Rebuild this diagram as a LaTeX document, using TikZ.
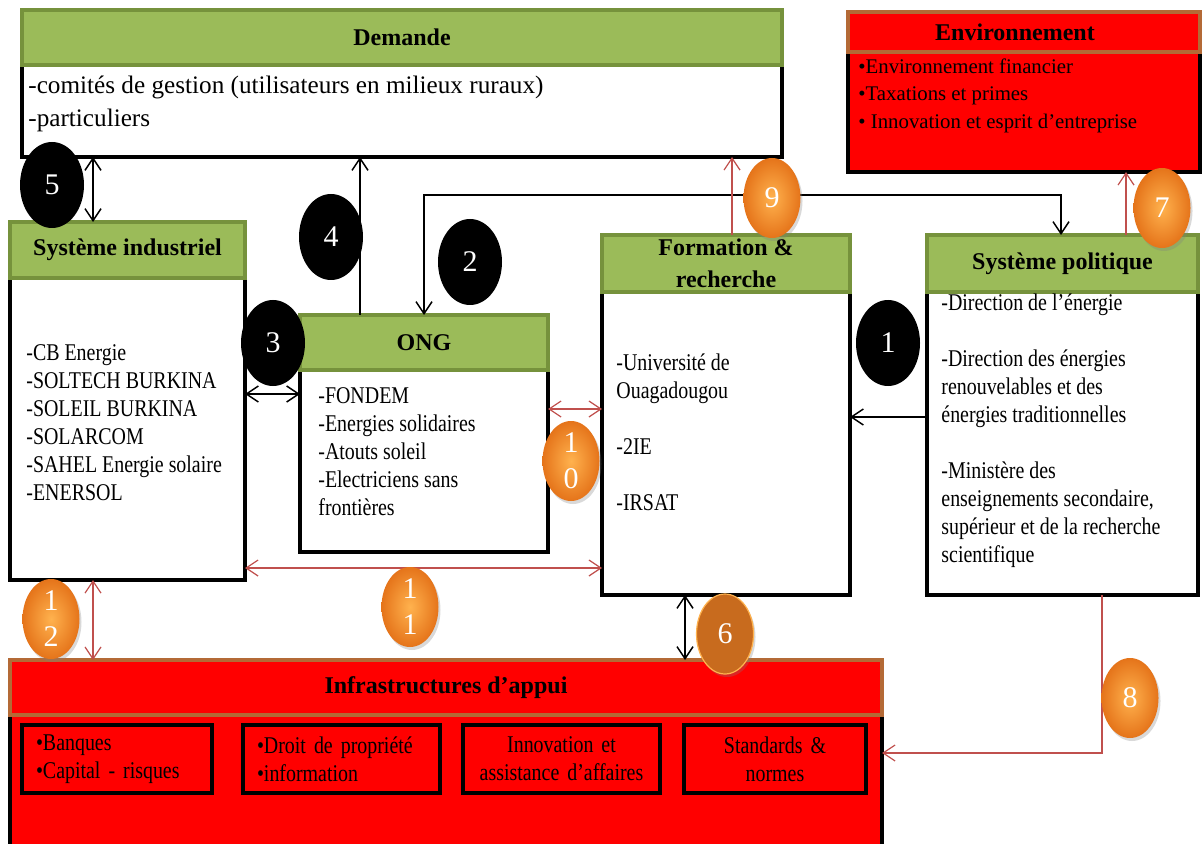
\documentclass[tikz,border=0pt]{standalone}
\usepackage{fontspec}
\setmainfont{Liberation Serif}
\newfontfamily\cond[FakeStretch=0.83]{Liberation Serif}
\usetikzlibrary{arrows.meta,shapes.geometric,positioning,shadows}

\definecolor{hdrgreen}{HTML}{9BBB59}
\definecolor{hdrline}{HTML}{76923C}
\definecolor{envline}{HTML}{B46A36}
\definecolor{linkred}{HTML}{C0504D}
\definecolor{ballout}{HTML}{E5741A}
\definecolor{ballin}{HTML}{FFB24E}
\definecolor{balldark}{HTML}{C86B1E}

\tikzset{
  hdr/.style={draw=hdrline, line width=2pt, fill=hdrgreen, outer sep=0pt, inner sep=0pt,
    align=center, font=\bfseries\fontsize{12}{16}\selectfont},
  bodybox/.style={draw, line width=2pt, fill=white, outer sep=0pt},
  redhdr/.style={hdr, draw=envline, fill=red},
  redbody/.style={bodybox, fill=red},
  inbox/.style={draw, line width=2pt, fill=red, minimum height=34pt, inner xsep=7pt,
    font=\cond\fontsize{12}{14}\selectfont},
  txt/.style={align=left, anchor=west, inner sep=0pt, font=\cond\fontsize{12}{14}\selectfont},
  blackno/.style={ellipse, fill=black, text=white, minimum width=32pt, minimum height=43pt,
    inner sep=0pt, font=\fontsize{15}{18}\selectfont},
  orno/.style={ellipse, inner color=ballin, outer color=ballout, text=white,
    minimum width=28.5pt, minimum height=40pt, inner sep=0pt, align=center,
    drop shadow={opacity=0.3, shadow xshift=1pt, shadow yshift=-1.5pt},
    font=\fontsize{15}{18}\selectfont},
  arr/.style={-{Straight Barb[length=6pt,width=8pt]}, line width=0.75pt},
  dbl/.style={{Straight Barb[length=6pt,width=8pt]}-{Straight Barb[length=6pt,width=8pt]}, line width=0.75pt},
  rarr/.style={arr, draw=linkred, line width=0.6pt},
  rdbl/.style={dbl, draw=linkred, line width=0.6pt}
}

\begin{document}
\begin{tikzpicture}[x=0.5pt, y=-0.5pt]
  \useasboundingbox (0,0) rectangle (1203,844);
  \clip (0,0) rectangle (1203,844);

  % boxes
  \node[bodybox, minimum width=380pt, minimum height=46pt] (demb) at (402,111) {};
  \node[hdr, minimum width=380pt, minimum height=27.5pt] (demh) [above=0pt of demb] {Demande};
  \node[txt, font=\fontsize{12.6}{16.5}\selectfont] (demt) at (28,104)
    {-comités de gestion (utilisateurs en milieux ruraux)\\-particuliers};

  \node[redbody, minimum width=176pt, minimum height=60pt] (envb) at (1024,112) {};
  \node[redhdr, minimum width=176pt, minimum height=20pt] (envh) [above=0pt of envb] {\hspace*{-9pt}Environnement};
  \node[txt, font=\fontsize{10.4}{13.75}\selectfont] (envt) at (858,95.5)
    {•Environnement financier\\•Taxations et primes\\• Innovation et esprit d’entreprise};

  \node[bodybox, minimum width=117.5pt, minimum height=151pt] (indb) at (127.5,429) {};
  \node[hdr, minimum width=117.5pt, minimum height=28pt] (indh) [above=0pt of indb] {Système industriel};
  \node[txt] (indt) at (26,422.5)
    {-CB Energie\\-SOLTECH BURKINA\\-SOLEIL BURKINA\\-SOLARCOM\\-SAHEL Energie solaire\\-ENERSOL};

  \node[bodybox, minimum width=124pt, minimum height=91pt] (ongb) at (424,461) {};
  \node[hdr, minimum width=124pt, minimum height=27.5pt] (ongh) [above=0pt of ongb] {ONG};
  \node[txt] (ongt) at (318,451.5)
    {-FONDEM\\-Energies solidaires\\-Atouts soleil\\-Electriciens sans\\frontières};

  \node[bodybox, minimum width=124pt, minimum height=151.5pt] (forb) at (726,443.5) {};
  \node[hdr, minimum width=124pt, minimum height=28.5pt] (forh) [above=0pt of forb] {Formation \&\\recherche};
  \node[txt] (fort) at (616,432)
    {-Université de\\Ouagadougou\\[14pt]-2IE\\[14pt]-IRSAT};

  \node[bodybox, minimum width=135.5pt, minimum height=151.5pt] (polb) at (1062.5,443.5) {};
  \node[hdr, minimum width=135.5pt, minimum height=28.5pt] (polh) [above=0pt of polb] {Système politique};
  \node[txt] (polt) at (941,431)
    {-Direction de l’énergie\\[14pt]-Direction des énergies\\renouvelables et des\\énergies traditionnelles\\[14pt]-Ministère des\\enseignements secondaire,\\supérieur et de la recherche\\scientifique};

  \node[redbody, minimum width=436pt, minimum height=70pt] (infb) at (446,785) {};
  \node[redhdr, minimum width=436pt, minimum height=27.5pt] (infh) [above=0pt of infb] {Infrastructures d’appui};
  \node[inbox, text width=81pt, align=left] (ib1) at (117,759) {•Banques\\•Capital - risques};
  \node[inbox, text width=84.5pt, align=left] (ib2) at (341.5,759) {•Droit de propriété\\•information};
  \node[inbox, text width=84.5pt, align=center] (ib3) at (561.5,759) {Innovation et\\assistance d’affaires};
  \node[inbox, text width=77pt, align=center] (ib4) at (775,759) {Standards \&\\normes};

  % links
  \coordinate (xind) at (93,0);
  \coordinate (x4) at (360,0);
  \coordinate (p2a) at (424,195);
  \coordinate (p2b) at (1061,195);
  \coordinate (y3) at (0,394);
  \coordinate (y1) at (0,417);
  \coordinate (y10) at (0,409);
  \coordinate (y11) at (0,568);
  \coordinate (x6) at (685,0);
  \coordinate (x7) at (1126,0);
  \coordinate (x9) at (732,0);
  \coordinate (p8) at (1102,753);

  \draw[arr] (polb.west |- y1) -- (forb.east |- y1);
  \draw[dbl] (ongh.north -| p2a) -- (p2a) -- (p2b) -- (polh.north -| p2b);
  \draw[dbl] (indb.east |- y3) -- (ongb.west |- y3);
  \draw[arr] (ongh.north -| x4) -- (demb.south -| x4);
  \draw[dbl] (demb.south -| xind) -- (indh.north -| xind);
  \draw[dbl] (forb.south -| x6) -- (infh.north -| x6);
  \draw[rarr] (polh.north -| x7) -- (envb.south -| x7);
  \draw[rarr] (polb.south -| p8) -- (p8) -- (infb.east |- p8);
  \draw[rarr] (forh.north -| x9) -- (demb.south -| x9);
  \draw[rdbl] (ongb.east |- y10) -- (forb.west |- y10);
  \draw[rdbl] (indb.east |- y11) -- (forb.west |- y11);
  \draw[rdbl] (indb.south -| xind) -- (infh.north -| xind);

  % numbers
  \node[blackno] (n1) at (888,343) {1};
  \node[blackno] (n2) at (470,262) {2};
  \node[blackno] (n3) at (273,343) {3};
  \node[blackno] (n4) at (331,237) {4};
  \node[blackno] (n5) at (52,185) {5};
  \node[orno, inner color=balldark, outer color=balldark, draw=ballin, line width=0.6pt] (n6) at (725,634) {6};
  \node[orno] (n7) at (1162,208) {7};
  \node[orno] (n8) at (1130,698) {8};
  \node[orno] (n9) at (772,198) {9};
  \node[orno] (n10) at (571,461) {1\\0};
  \node[orno] (n11) at (410,607) {1\\1};
  \node[orno] (n12) at (51,619) {1\\2};
\end{tikzpicture}
\end{document}
